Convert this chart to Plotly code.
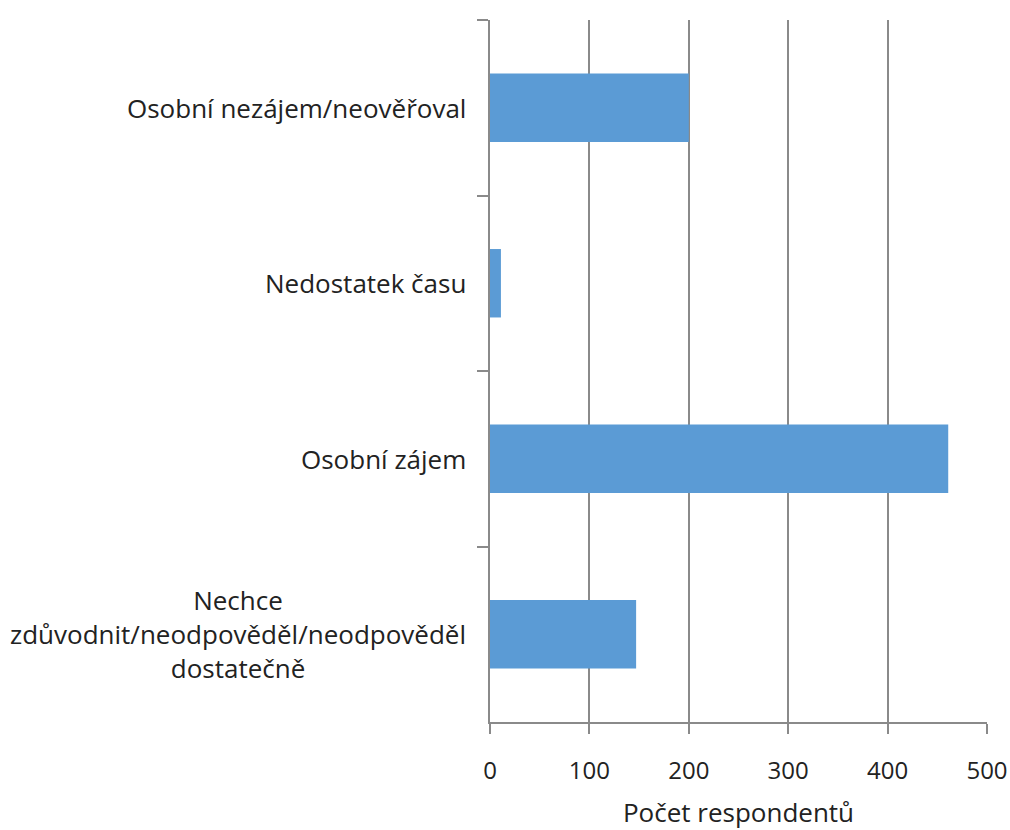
import plotly.graph_objects as go

# Reasons, listed top to bottom as they appear on the chart
categories = [
    "Osobní nezájem/neověřoval",
    "Nedostatek času",
    "Osobní zájem",
    "Nechce<br>zdůvodnit/neodpověděl/neodpověděl<br>dostatečně",
]
counts = [200, 11, 461, 147]

x_ticks = [0, 100, 200, 300, 400, 500]
x_title = "Počet respondentů"

FONT = "Open Sans"
TEXT = "#222222"
GRID = "#8a8a8a"
BAR = "#5b9bd5"

fig = go.Figure(
    go.Bar(
        x=counts,
        y=categories,
        orientation="h",
        marker=dict(color=BAR, line=dict(width=0)),
        hoverinfo="x+y",
    )
)

# Category labels drawn as annotations so multi-line text is centred
annotations = [
    dict(
        text=c,
        xref="paper",
        yref="y",
        x=0,
        y=c,
        xanchor="right",
        yanchor="middle",
        xshift=-22,
        align="center",
        showarrow=False,
        font=dict(family=FONT, size=26, color=TEXT),
    )
    for c in categories
]

fig.update_layout(
    width=1010,
    height=830,
    margin=dict(l=490, r=23, t=20, b=108, autoexpand=False),
    plot_bgcolor="white",
    paper_bgcolor="white",
    bargap=0.61,
    showlegend=False,
    font=dict(family=FONT, size=24, color=TEXT),
    annotations=annotations,
    xaxis=dict(
        range=[0, 500],
        tickvals=x_ticks,
        ticktext=[str(v) for v in x_ticks],
        automargin=False,
        showgrid=True,
        gridcolor=GRID,
        gridwidth=1.5,
        zeroline=False,
        showline=True,
        linecolor=GRID,
        linewidth=1.5,
        ticks="outside",
        ticklen=10,
        tickwidth=1.5,
        tickcolor=GRID,
        ticklabelstandoff=16,
        tickfont=dict(family=FONT, size=24, color=TEXT),
        title=dict(text=x_title, standoff=22,
                   font=dict(family=FONT, size=26, color=TEXT)),
        fixedrange=True,
    ),
    yaxis=dict(
        categoryorder="array",
        categoryarray=categories,
        autorange="reversed",
        automargin=False,
        showticklabels=False,
        showgrid=False,
        zeroline=False,
        showline=True,
        linecolor=GRID,
        linewidth=1.5,
        ticks="outside",
        tickson="boundaries",
        ticklen=11,
        tickwidth=1.5,
        tickcolor=GRID,
        fixedrange=True,
    ),
)

fig.write_html("out.html")
